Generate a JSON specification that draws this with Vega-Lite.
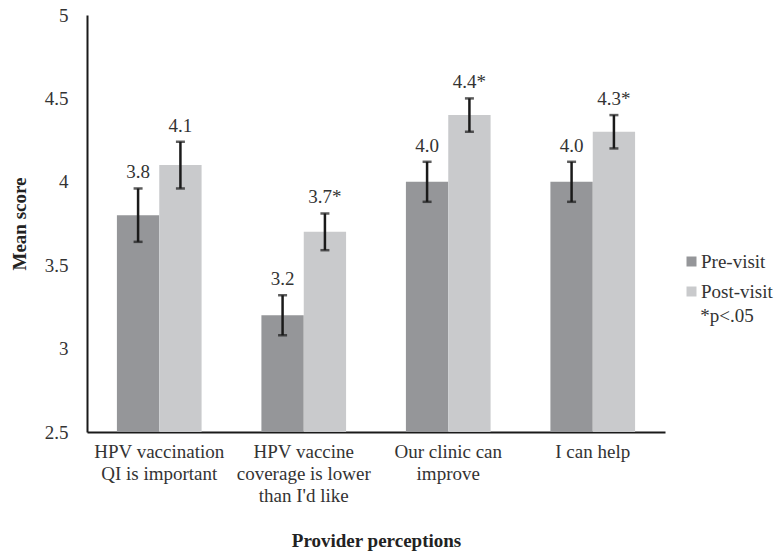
{
  "$schema": "https://vega.github.io/schema/vega-lite/v6.json",
  "width": 578,
  "height": 417,
  "autosize": {"type": "none"},
  "padding": {"left": 87, "top": 15, "right": 115, "bottom": 123},
  "background": "white",
  "config": {
    "view": {"stroke": null},
    "font": "Liberation Serif",
    "text": {"font": "Liberation Serif"},
    "axis": {"labelFont": "Liberation Serif", "titleFont": "Liberation Serif", "labelColor": "#333333", "titleColor": "#222222"},
    "legend": {"labelFont": "Liberation Serif", "titleFont": "Liberation Serif", "padding": 0}
  },
  "data": {
    "values": [
      {"category": "HPV vaccination QI is important", "group": "Pre-visit", "mean": 3.8, "lo": 3.64, "hi": 3.96, "label": "3.8"},
      {"category": "HPV vaccination QI is important", "group": "Post-visit", "mean": 4.1, "lo": 3.96, "hi": 4.24, "label": "4.1"},
      {"category": "HPV vaccine coverage is lower than I'd like", "group": "Pre-visit", "mean": 3.2, "lo": 3.08, "hi": 3.32, "label": "3.2"},
      {"category": "HPV vaccine coverage is lower than I'd like", "group": "Post-visit", "mean": 3.7, "lo": 3.59, "hi": 3.81, "label": "3.7*"},
      {"category": "Our clinic can improve", "group": "Pre-visit", "mean": 4.0, "lo": 3.88, "hi": 4.12, "label": "4.0"},
      {"category": "Our clinic can improve", "group": "Post-visit", "mean": 4.4, "lo": 4.3, "hi": 4.5, "label": "4.4*"},
      {"category": "I can help", "group": "Pre-visit", "mean": 4.0, "lo": 3.88, "hi": 4.12, "label": "4.0"},
      {"category": "I can help", "group": "Post-visit", "mean": 4.3, "lo": 4.2, "hi": 4.4, "label": "4.3*"}
    ]
  },
  "encoding": {
    "x": {
      "field": "category",
      "type": "nominal",
      "sort": null,
      "scale": {"paddingInner": 0.414, "paddingOuter": 0.207},
      "axis": {
        "title": "Provider perceptions",
        "titleFont": "Liberation Serif",
        "titleFontSize": 19,
        "titleFontWeight": "bold",
        "titlePadding": 26,
        "labelFont": "Liberation Serif",
        "labelFontSize": 19,
        "labelAngle": 0,
        "labelPadding": 10,
        "labelLineHeight": 22,
        "labelBaseline": "top",
        "labelOverlap": false,
        "labelBound": false,
        "ticks": false,
        "domainColor": "#1a1a1a",
        "domainWidth": 2,
        "labelExpr": "datum.value == 'HPV vaccination QI is important' ? ['HPV vaccination', 'QI is important'] : datum.value == \"HPV vaccine coverage is lower than I'd like\" ? ['HPV vaccine', 'coverage is lower', \"than I'd like\"] : datum.value == 'Our clinic can improve' ? ['Our clinic can', 'improve'] : datum.value"
      }
    },
    "xOffset": {"field": "group", "type": "nominal", "sort": ["Pre-visit", "Post-visit"]}
  },
  "layer": [
    {
      "mark": {"type": "bar"},
      "encoding": {
        "y": {
          "field": "mean",
          "type": "quantitative",
          "scale": {"domain": [2.5, 5], "zero": false, "nice": false},
          "axis": {
            "title": "Mean score",
            "titleFont": "Liberation Serif",
            "titleFontSize": 19,
            "titleFontWeight": "bold",
            "titlePadding": 15,
            "labelFont": "Liberation Serif",
            "labelFontSize": 19,
            "labelPadding": 19,
            "ticks": false,
            "grid": false,
            "values": [2.5, 3, 3.5, 4, 4.5, 5],
            "format": "~f",
            "domainColor": "#1a1a1a",
            "domainWidth": 2
          }
        },
        "y2": {"datum": 2.5},
        "color": {
          "field": "group",
          "type": "nominal",
          "scale": {"domain": ["Pre-visit", "Post-visit"], "range": ["#959699", "#c9cacc"]},
          "legend": {
            "orient": "none",
            "legendX": 595,
            "legendY": 237,
            "padding": 0,
            "offset": 0,
            "title": "*p<.05",
            "titleOrient": "bottom",
            "titleAnchor": "middle",
            "titleFont": "Liberation Serif",
            "titleFontSize": 19,
            "titleFontWeight": "normal",
            "titleColor": "#333333",
            "titlePadding": 5,
            "labelFont": "Liberation Serif",
            "labelFontSize": 19,
            "labelColor": "#333333",
            "labelOffset": 0,
            "symbolType": "square",
            "symbolSize": 100,
            "symbolStrokeWidth": 0,
            "symbolOffset": 0,
            "rowPadding": 10
          }
        }
      }
    },
    {
      "mark": {"type": "rule", "color": "#1a1a1a", "strokeWidth": 2.5},
      "encoding": {
        "y": {"field": "lo", "type": "quantitative"},
        "y2": {"field": "hi"}
      }
    },
    {
      "mark": {"type": "tick", "color": "#1a1a1a", "size": 9, "thickness": 2.5},
      "encoding": {"y": {"field": "lo", "type": "quantitative"}}
    },
    {
      "mark": {"type": "tick", "color": "#1a1a1a", "size": 9, "thickness": 2.5},
      "encoding": {"y": {"field": "hi", "type": "quantitative"}}
    },
    {
      "mark": {"type": "text", "font": "Liberation Serif", "fontSize": 19, "color": "#333333", "baseline": "middle", "dy": -16},
      "encoding": {
        "y": {"field": "hi", "type": "quantitative"},
        "text": {"field": "label"}
      }
    }
  ]
}
